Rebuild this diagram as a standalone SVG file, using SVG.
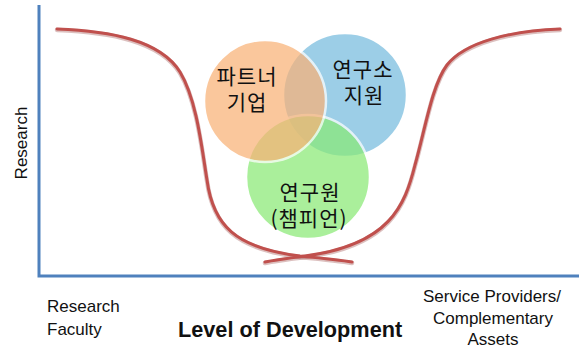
<svg xmlns="http://www.w3.org/2000/svg" width="581" height="350" viewBox="0 0 581 350">
  <defs>
    <style>
      .axis { stroke: #4f81bd; stroke-width: 3; fill: none; }
      .curve { stroke: #c0504d; stroke-width: 3; fill: none; stroke-linecap: round; }
      .curve-shade { stroke: #8c2e2b; stroke-width: 4.5; fill: none; stroke-linecap: round; opacity: 0.3; }
      .bubble { stroke: #ffffff; stroke-width: 2.5; opacity: 0.72; }
      .ko { font-family: "Noto Sans CJK KR", "Noto Sans", sans-serif; font-size: 21px; letter-spacing: 1px; fill: #111111; text-anchor: middle; }
      .lbl { font-family: "Liberation Sans", Arial, sans-serif; font-size: 17px; fill: #111111; }
      .title { font-family: "Liberation Sans", Arial, sans-serif; font-size: 21.7px; font-weight: bold; fill: #111111; }
    </style>
  </defs>

  <rect width="581" height="350" fill="#ffffff"/>

  <!-- axes -->
  <g id="axes">
    <path class="axis" d="M39,5 V276 H579"/>
  </g>

  <!-- overlapping bubbles, each with its two-line label -->
  <g id="node-institute">
    <circle class="bubble" cx="345" cy="95" r="62" fill="#77bcde"/>
  </g>
  <g id="node-researcher">
    <circle class="bubble" cx="308" cy="177" r="62" fill="#8aea76"/>
  </g>
  <g id="node-partner">
    <circle class="bubble" cx="265" cy="101" r="61" fill="#f9b277"/>
  </g>

  <g id="labels-bubbles">
    <text class="ko"><tspan x="247" y="84">파트너</tspan><tspan x="247" y="110">기업</tspan></text>
    <text class="ko"><tspan x="363" y="77">연구소</tspan><tspan x="364" y="103">지원</tspan></text>
    <text class="ko"><tspan x="310" y="200">연구원</tspan><tspan x="309" y="226">(챔피언)</tspan></text>
  </g>

  <!-- development curves -->
  <g id="connectors">
    <path class="curve-shade" d="M57,30 C110,32 160,41 180,73 C197,101 202,151 207,181 C213,226 235,249 300,257 C320,259 340,261 352,263"/>
    <path class="curve-shade" d="M560,30 C510,32 465,43 447,66 C432,86 425,131 415,166 C405,206 390,246 305,257 C290,259 275,261 265,263"/>
    <path class="curve" d="M57,29 C110,31 160,40 180,72 C197,100 202,150 207,180 C213,225 235,248 300,256 C320,258 340,260 352,262"/>
    <path class="curve" d="M560,29 C510,31 465,42 447,65 C432,85 425,130 415,165 C405,205 390,245 305,256 C290,258 275,260 265,262"/>
  </g>

  <!-- axis labels -->
  <g id="labels-axes">
    <text class="lbl" transform="translate(27,143) rotate(-90)" text-anchor="middle">Research</text>
    <text class="lbl" x="47" y="312">Research</text>
    <text class="lbl" x="47" y="335">Faculty</text>
    <text class="title" x="178" y="337">Level of Development</text>
    <text class="lbl" x="492" y="302" text-anchor="middle">Service Providers/</text>
    <text class="lbl" x="493" y="324" text-anchor="middle">Complementary</text>
    <text class="lbl" x="493" y="345" text-anchor="middle">Assets</text>
  </g>
</svg>
